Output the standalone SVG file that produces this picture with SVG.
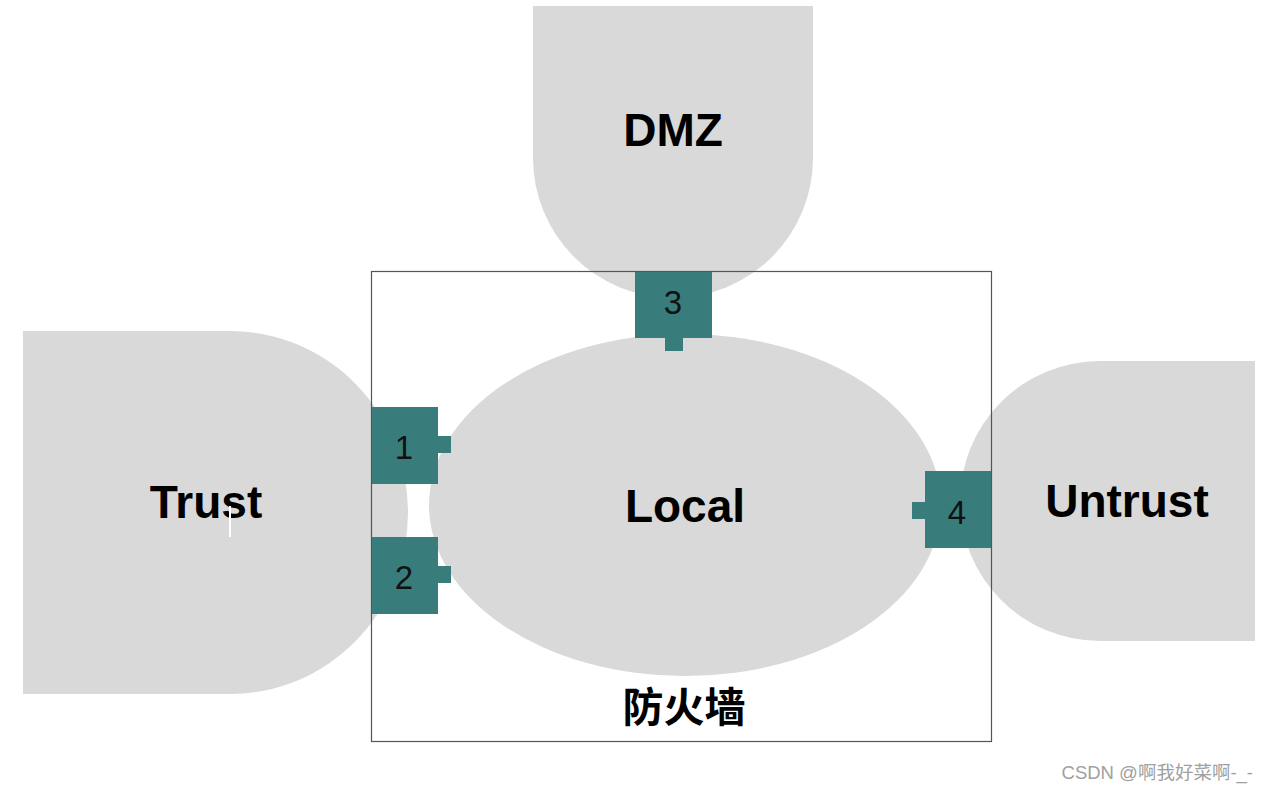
<svg xmlns="http://www.w3.org/2000/svg" width="1266" height="791" viewBox="0 0 1266 791">
<style>
.zone{fill:#d9d9d9}
.port{fill:#387d7b}
.lbl{font-family:"Liberation Sans",Arial,sans-serif;font-weight:bold;font-size:46px;fill:#000;text-anchor:middle}
.num{font-family:"Liberation Sans",Arial,sans-serif;font-size:33px;fill:#111;text-anchor:middle}
</style>
<rect width="1266" height="791" fill="#fff"/>
<g id="dmz">
<path class="zone" d="M533,6 H813 V158 A140,140 0 0 1 533,158 Z"/>
<text class="lbl" x="673" y="146">DMZ</text>
</g>
<g id="trust">
<path class="zone" d="M23,331 H230 A178,181.5 0 0 1 230,694 H23 Z"/>
<text class="lbl" x="206" y="518">Trust</text>
<rect x="229" y="506" width="2" height="31" fill="#fff"/>
</g>
<g id="untrust">
<path class="zone" d="M1255,361 H1100 A140,140 0 0 0 1100,641 H1255 Z"/>
<text class="lbl" x="1127" y="517">Untrust</text>
</g>
<g id="local">
<ellipse class="zone" cx="685" cy="505" rx="256" ry="171"/>
<text class="lbl" x="685" y="522">Local</text>
</g>
<g id="firewall">
<rect x="371.5" y="271.5" width="620" height="470" fill="none" stroke="#555" stroke-width="1.2"/>
<text x="684" y="722" font-family="'Noto Sans CJK SC',sans-serif" font-weight="bold" font-size="41" text-anchor="middle" fill="#000">防火墙</text>
</g>
<g id="connectors"></g>
<g id="port1">
<rect class="port" x="372" y="407" width="66" height="77"/>
<rect class="port" x="437" y="436" width="14" height="17"/>
<text class="num" x="404" y="459">1</text>
</g>
<g id="port2">
<rect class="port" x="372" y="537" width="66" height="77"/>
<rect class="port" x="437" y="566" width="14" height="17"/>
<text class="num" x="404" y="589">2</text>
</g>
<g id="port3">
<rect class="port" x="635" y="272" width="77" height="66"/>
<rect class="port" x="665" y="337" width="18" height="14"/>
<text class="num" x="673" y="314">3</text>
</g>
<g id="port4">
<rect class="port" x="925" y="471" width="66" height="77"/>
<rect class="port" x="912" y="502" width="14" height="17"/>
<text class="num" x="957" y="524">4</text>
</g>
<text x="1253" y="779" font-family="'Liberation Sans','Noto Sans CJK SC',sans-serif" font-size="18.5" fill="#a0a0a0" text-anchor="end">CSDN @啊我好菜啊-_-</text>
</svg>
